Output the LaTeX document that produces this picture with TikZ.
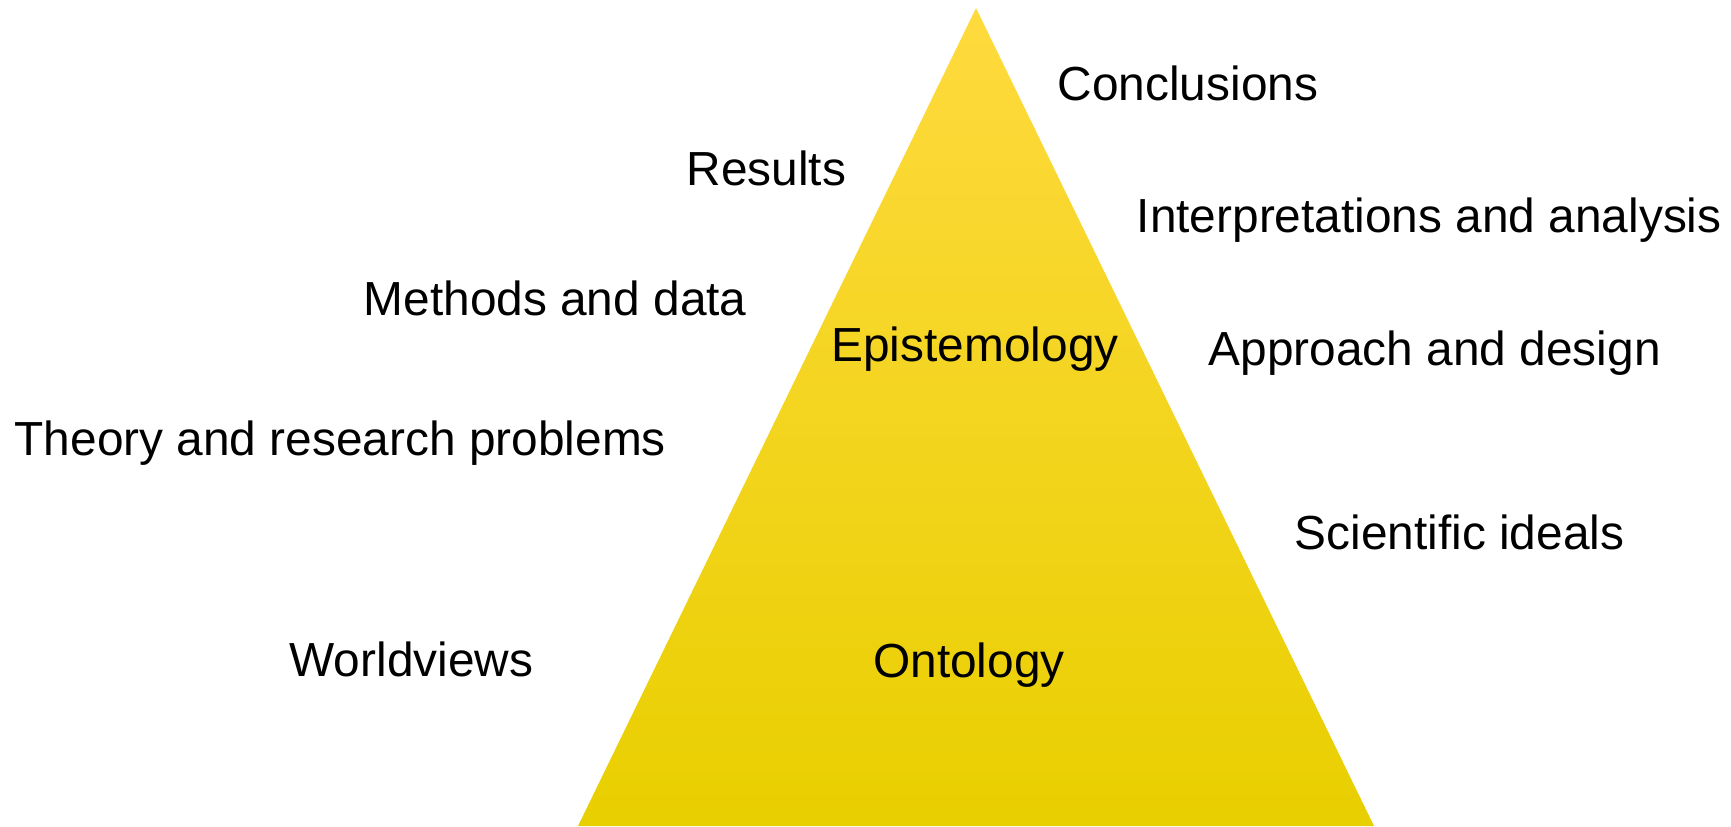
\documentclass[tikz,border=0pt]{standalone}
\usepackage{fontspec}
\setmainfont{Liberation Sans}
\usetikzlibrary{positioning}

\definecolor{pyrtop}{RGB}{255,218,62}
\definecolor{pyrmid}{RGB}{253,220,20}
\definecolor{pyrbot}{RGB}{232,207,0}

\begin{document}
\begin{tikzpicture}[x=0.01cm,y=-0.01cm,
      label/.style={anchor=west,inner sep=0pt,text height=0.34cm,text depth=0pt,
                    font=\fontsize{13.6}{16}\selectfont},
      layer/.style={inner sep=0pt,text height=0.34cm,text depth=0pt,
                    font=\fontsize{13.6}{16}\selectfont}]
    \useasboundingbox (0,0) rectangle (1731,826);

    % Pyramid
    \coordinate (apex)  at (976,8);
    \coordinate (baseL) at (578,826);
    \coordinate (baseR) at (1374,826);
    \shade[top color=pyrtop,middle color=pyrmid,bottom color=pyrbot]
        (apex) -- (baseR) -- (baseL) -- cycle;

    % Layers
    \node[layer] (episteme) at (975,344) {Epistemology};
    \node[layer] (onto)     at (969,660) {Ontology};

    % Left side
    \node[label] (results)  at (686,168) {Results};
    \node[label] (methods)  at (363,298) {Methods and data};
    \node[label] (theory)   at (14,438)  {Theory and research problems};
    \node[label] (worlds)   at (289,659) {Worldviews};

    % Right side
    \node[label] (concl)    at (1057,83)  {Conclusions};
    \node[label] (interp)   at (1136,215) {Interpretations and analysis};
    \node[label] (approach) at (1208,348) {Approach and design};
    \node[label] (ideals)   at (1294,532) {Scientific ideals};

\end{tikzpicture}
\end{document}
